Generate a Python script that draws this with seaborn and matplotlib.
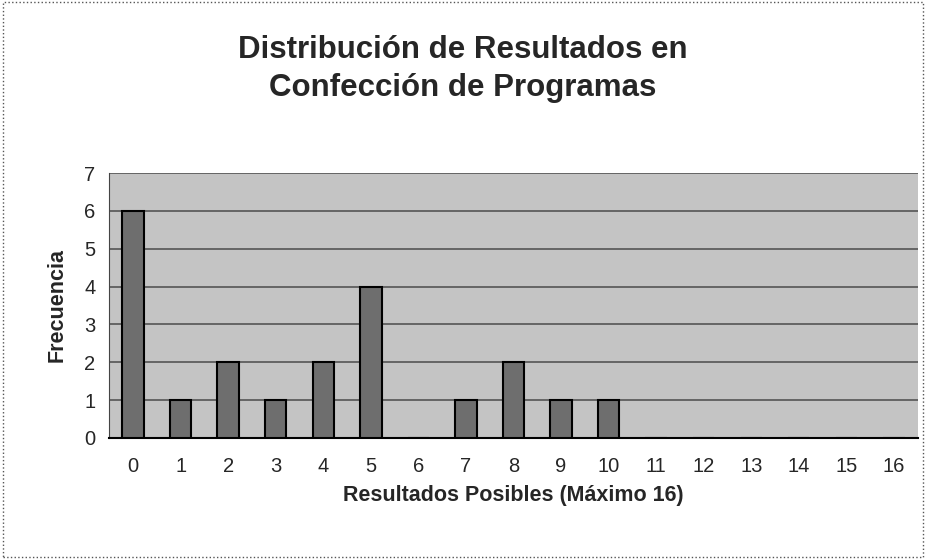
import pandas as pd
import seaborn as sns
import matplotlib.pyplot as plt
from matplotlib.patches import Rectangle
from matplotlib.ticker import FixedLocator

resultados = [str(i) for i in range(17)]
frecuencia = [6, 1, 2, 1, 2, 4, 0, 1, 2, 1, 1, 0, 0, 0, 0, 0, 0]
yticks = [0, 1, 2, 3, 4, 5, 6, 7]

df = pd.DataFrame({"resultado": resultados, "frecuencia": frecuencia})

sns.set_style("white")
plt.rcParams["font.family"] = ["Liberation Sans", "DejaVu Sans"]

fig = plt.figure(figsize=(9.26, 5.6), dpi=100)
ax = fig.add_axes([0.118, 0.218, 0.873, 0.473])
ax.set_facecolor("#c4c4c4")

sns.barplot(data=df, x="resultado", y="frecuencia", order=resultados,
            color="#6e6e6e", edgecolor="black", linewidth=1.5, width=0.45,
            saturation=1, ax=ax, zorder=3)

ax.set_ylim(0, 7)
ax.set_xlim(-0.5, 16.5)
ax.set_yticks(yticks)
ax.yaxis.grid(True, color="#555555", linewidth=1.2, zorder=1)
ax.set_axisbelow(True)

ax.xaxis.set_minor_locator(FixedLocator([i + 0.5 for i in range(-1, 17)]))
ax.tick_params(axis="x", which="major", length=0, pad=14, labelsize=14.5)
ax.tick_params(axis="x", which="minor", length=5, direction="out", color="black")
ax.tick_params(axis="y", which="major", length=4, direction="out", labelsize=14.5, pad=6)

for side in ["top", "right"]:
    ax.spines[side].set_visible(False)
ax.spines["left"].set_color("#444444")
ax.spines["bottom"].set_color("black")
ax.spines["bottom"].set_linewidth(1.5)

ax.set_xlabel("Resultados Posibles (Máximo 16)", fontsize=15.5, fontweight="bold", labelpad=6)
ax.set_ylabel("Frecuencia", fontsize=15.5, fontweight="bold", labelpad=12)

fig.text(0.5, 0.876, "Distribución de Resultados en\nConfección de Programas",
         ha="center", va="center", fontsize=22.5, fontweight="bold", linespacing=1.35)

fig.patches.append(Rectangle((0.003, 0.006), 0.994, 0.99, transform=fig.transFigure,
                             fill=False, linestyle=":", linewidth=1, edgecolor="#555555"))

fig.savefig("out.png", dpi=100)
